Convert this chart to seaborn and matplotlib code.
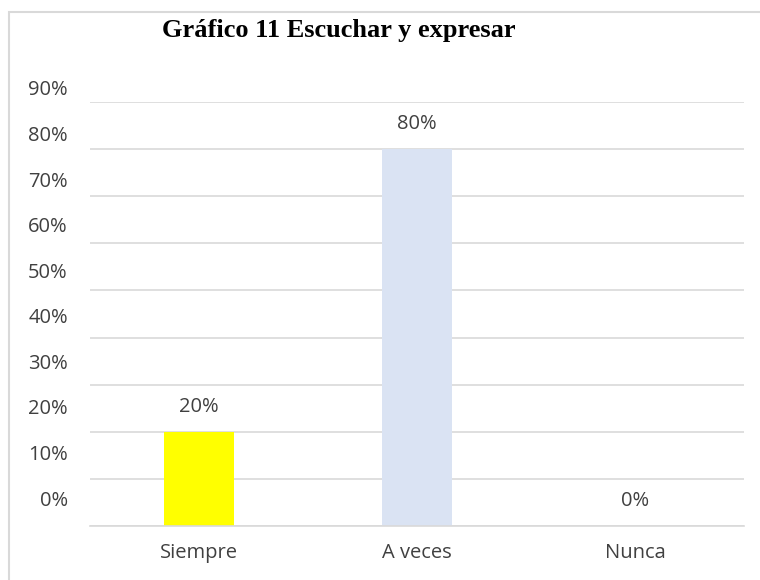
import matplotlib
matplotlib.use("Agg")
import matplotlib.pyplot as plt
import matplotlib.transforms as mtrans
from matplotlib.patches import Rectangle
import seaborn as sns
import pandas as pd

# data
categorias = ["Siempre", "A veces", "Nunca"]
valores = [0.20, 0.80, 0.00]
colores = ["#FFFF00", "#DAE3F3", "#A5A5A5"]
ticks_y = [0.0, 0.1, 0.2, 0.3, 0.4, 0.5, 0.6, 0.7, 0.8, 0.9]
titulo = "Gráfico 11 Escuchar y expresar"

sns.set_theme(style="white")
plt.rcParams['font.family'] = ['Open Sans', 'DejaVu Sans']
txt_col = "#404040"; grid_col = "#d9d9d9"; fs = 14.5

df = pd.DataFrame({"cat": categorias, "val": valores})
fig = plt.figure(figsize=(7.6, 5.8), dpi=100)
ax = fig.add_axes([90/760, 1-526/580, (744-90)/760, (526-102)/580])

sns.barplot(data=df, x="cat", y="val", hue="cat", palette=colores, width=0.32,
            legend=False, ax=ax, saturation=1, linewidth=0)

ax.set_ylim(0, 0.9); ax.set_xlim(-0.5, 2.5)
ax.set_yticks(ticks_y)
ax.set_yticklabels([f"{t:.0%}" for t in ticks_y], fontsize=fs, color=txt_col)
ax.yaxis.grid(True, color=grid_col, lw=1.2); ax.set_axisbelow(True)
ax.tick_params(axis="both", length=0)
ax.tick_params(axis="y", pad=16)
ax.tick_params(axis="x", pad=12, labelsize=fs, labelcolor=txt_col)
for s in ["top", "right", "left"]: ax.spines[s].set_visible(False)
ax.spines["bottom"].set_color(grid_col); ax.spines["bottom"].set_linewidth(1.2)
ax.set_xlabel(""); ax.set_ylabel("")

# the reference's axis labels sit a bit above their gridlines
for t, lab in zip(ticks_y, ax.get_yticklabels()):
    off = (28 - 14*t/0.9)/100
    lab.set_transform(lab.get_transform() + mtrans.ScaledTranslation(0, off, fig.dpi_scale_trans))

for cont in ax.containers:
    ax.bar_label(cont, labels=[f"{v:.0%}" for v in cont.datavalues], padding=11,
                 fontsize=fs, color=txt_col)

fig.text(339/760, 1-30/580, titulo, ha="center", va="center", fontsize=19,
         fontweight="bold", family=["Liberation Serif", "DejaVu Serif"], color="black")

fig.patches.append(Rectangle((9/760, -0.1), 2, 1-12/580+0.1, transform=fig.transFigure,
                             fill=False, edgecolor=grid_col, lw=1.5))

plt.savefig("out.png", dpi=100); plt.close()
